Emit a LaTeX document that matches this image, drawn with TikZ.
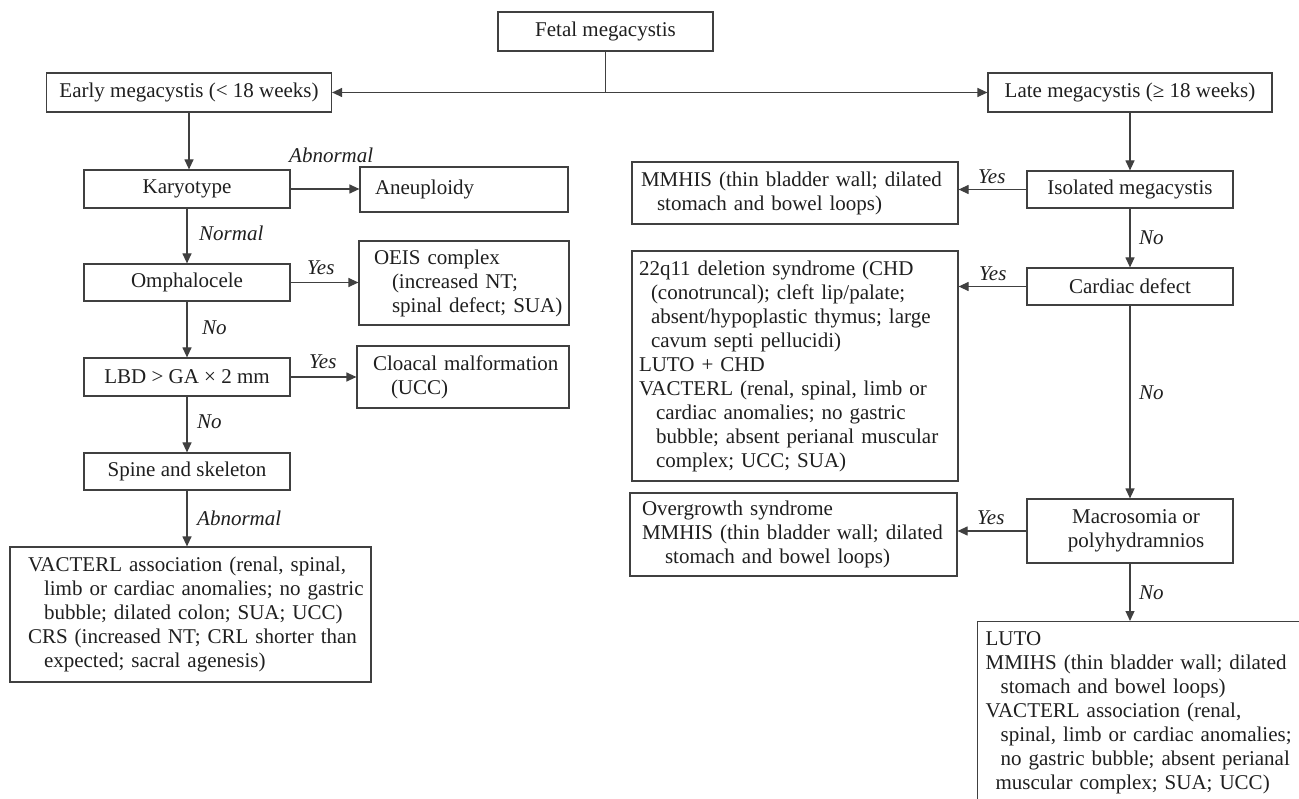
\documentclass[tikz,border=0pt]{standalone}
\usepackage{fontspec}
\setmainfont{Liberation Serif}
\usetikzlibrary{arrows.meta}
\newcommand\Lx[1]{\mbox{#1}}
\newcommand\Ix[2]{\hspace*{#1pt}\mbox{#2}}
\begin{document}
\begin{tikzpicture}[x=1pt,y=-1pt,
  every node/.style={font=\fontsize{21}{24}\selectfont, text=black!88},
  box/.style={draw=black!75, line width=1.2pt, inner sep=0pt, rectangle},
  cbox/.style={box, align=center},
  lbox/.style={box, align=left},
  arr/.style={draw=black!75, line width=1.2pt, -{Triangle[length=10pt,width=9pt]}},
  ln/.style={draw=black!75, line width=1.2pt},
  lab/.style={font=\fontsize{21}{24}\selectfont\itshape, anchor=west, inner sep=0pt}]
\useasboundingbox (0,0) rectangle (1299,799);
\clip (0,0) rectangle (1299,799);
\fill[white] (0,0) rectangle (1299,799);

% top
\node[cbox, minimum width=215pt, minimum height=39pt] (fetal) at (605.5,31.5) {Fetal megacystis};
\node[cbox, minimum width=285pt, minimum height=39pt] (early) at (189,92.5) {Early megacystis (< 18 weeks)};
\node[cbox, minimum width=284pt, minimum height=39pt] (late) at (1130,92.5) {Late megacystis (≥ 18 weeks)};

% left column
\node[cbox, minimum width=206pt, minimum height=38pt] (karyo) at (187,189) {Karyotype};
\node[lbox, text width=178pt, inner xsep=15pt, minimum height=45pt] (aneu) at (464,189.5) {Aneuploidy};
\node[cbox, minimum width=206pt, minimum height=37pt] (omph) at (187,282.5) {Omphalocele};
\node[lbox, text width=180pt, inner xsep=15pt, minimum height=84pt] (oeis) at (464,283)
  {\Lx{OEIS complex}\\\Ix{18}{(increased NT;}\\\Ix{18}{spinal defect; SUA)}};
\node[cbox, minimum width=206pt, minimum height=38pt] (lbd) at (187,377) {LBD > GA × 2 mm};
\node[lbox, text width=180pt, inner xsep=16pt, minimum height=62pt] (cloac) at (463,377)
  {\Lx{Cloacal malformation}\\\Ix{18}{(UCC)}};
\node[cbox, minimum width=206pt, minimum height=37pt] (spine) at (187,471.5) {Spine and skeleton};
\node[lbox, text width=325pt, inner xsep=18pt, minimum height=135pt] (vact) at (190.5,614.5)
  {\Lx{VACTERL association (renal, spinal,}\\
   \Ix{16}{limb or cardiac anomalies; no gastric}\\
   \Ix{16}{bubble; dilated colon; SUA; UCC)}\\
   \Lx{CRS (increased NT; CRL shorter than}\\
   \Ix{16}{expected; sacral agenesis)}};

% right column
\node[cbox, minimum width=206pt, minimum height=37pt] (iso) at (1130,189.5) {Isolated megacystis};
\node[lbox, text width=308pt, inner xsep=9pt, minimum height=62pt] (mmhis) at (795,193)
  {\Lx{MMHIS (thin bladder wall; dilated}\\\Ix{16}{stomach and bowel loops)}};
\node[cbox, minimum width=206pt, minimum height=37pt] (card) at (1130,286.5) {Cardiac defect};
\node[lbox, text width=312pt, inner xsep=7pt, minimum height=230pt] (q22) at (795,366)
  {\Lx{22q11 deletion syndrome (CHD}\\
   \Ix{12}{(conotruncal); cleft lip/palate;}\\
   \Ix{12}{absent/hypoplastic thymus; large}\\
   \Ix{12}{cavum septi pellucidi)}\\
   \Lx{LUTO + CHD}\\
   \Lx{VACTERL (renal, spinal, limb or}\\
   \Ix{17}{cardiac anomalies; no gastric}\\
   \Ix{17}{bubble; absent perianal muscular}\\
   \Ix{17}{complex; UCC; SUA)}};
\node[cbox, minimum width=206pt, minimum height=64pt] (macro) at (1130,531)
  {\hspace*{12pt}Macrosomia or\\\hspace*{12pt}polyhydramnios};
\node[lbox, text width=303pt, inner xsep=12pt, minimum height=83pt] (over) at (793.5,534.5)
  {\Lx{Overgrowth syndrome}\\\Lx{MMHIS (thin bladder wall; dilated}\\\Ix{23}{stomach and bowel loops)}};
\node[lbox, anchor=north west, text width=340pt, inner xsep=8pt, inner ysep=10pt] (luto) at (977,621)
  {\Lx{LUTO}\\
   \Lx{MMIHS (thin bladder wall; dilated}\\
   \Ix{15}{stomach and bowel loops)}\\
   \Lx{VACTERL association (renal,}\\
   \Ix{15}{spinal, limb or cardiac anomalies;}\\
   \Ix{15}{no gastric bubble; absent perianal}\\
   \Ix{10}{muscular complex; SUA; UCC)}\\ \Lx{}};

% connectors top
\coordinate (split) at (fetal.south |- early.east);
\draw[ln] (fetal.south) -- (split);
\draw[arr] (split) -- (early.east);
\draw[arr] (split) -- (late.west);

% left connectors
\draw[arr] (early.south) -- (early.south |- karyo.north);
\draw[arr] (karyo.east) -- (karyo.east -| aneu.west);
\draw[arr] (karyo.south) -- (omph.north);
\draw[arr] (omph.east) -- (omph.east -| oeis.west);
\draw[arr] (omph.south) -- (lbd.north);
\draw[arr] (lbd.east) -- (lbd.east -| cloac.west);
\draw[arr] (lbd.south) -- (spine.north);
\draw[arr] (spine.south) -- (spine.south |- vact.north);

% right connectors
\draw[arr] (late.south) -- (iso.north);
\draw[arr] (iso.west) -- (iso.west -| mmhis.east);
\draw[arr] (iso.south) -- (card.north);
\draw[arr] (card.west) -- (card.west -| q22.east);
\draw[arr] (card.south) -- (macro.north);
\draw[arr] (macro.west) -- (macro.west -| over.east);
\draw[arr] (macro.south) -- (macro.south |- luto.north);

% labels
\node[lab] (l1) at (289,155) {Abnormal};
\node[lab] (l2) at (199,233) {Normal};
\node[lab] (l3) at (307,268) {Yes};
\node[lab] (l4) at (202,328) {No};
\node[lab] (l5) at (309,362) {Yes};
\node[lab] (l6) at (197,422) {No};
\node[lab] (l7) at (197,518) {Abnormal};
\node[lab] (l8) at (978,177) {Yes};
\node[lab] (l9) at (1139,238) {No};
\node[lab] (l10) at (979,274) {Yes};
\node[lab] (l11) at (1139,393) {No};
\node[lab] (l12) at (977,518) {Yes};
\node[lab] (l13) at (1139,593) {No};
\end{tikzpicture}
\end{document}
